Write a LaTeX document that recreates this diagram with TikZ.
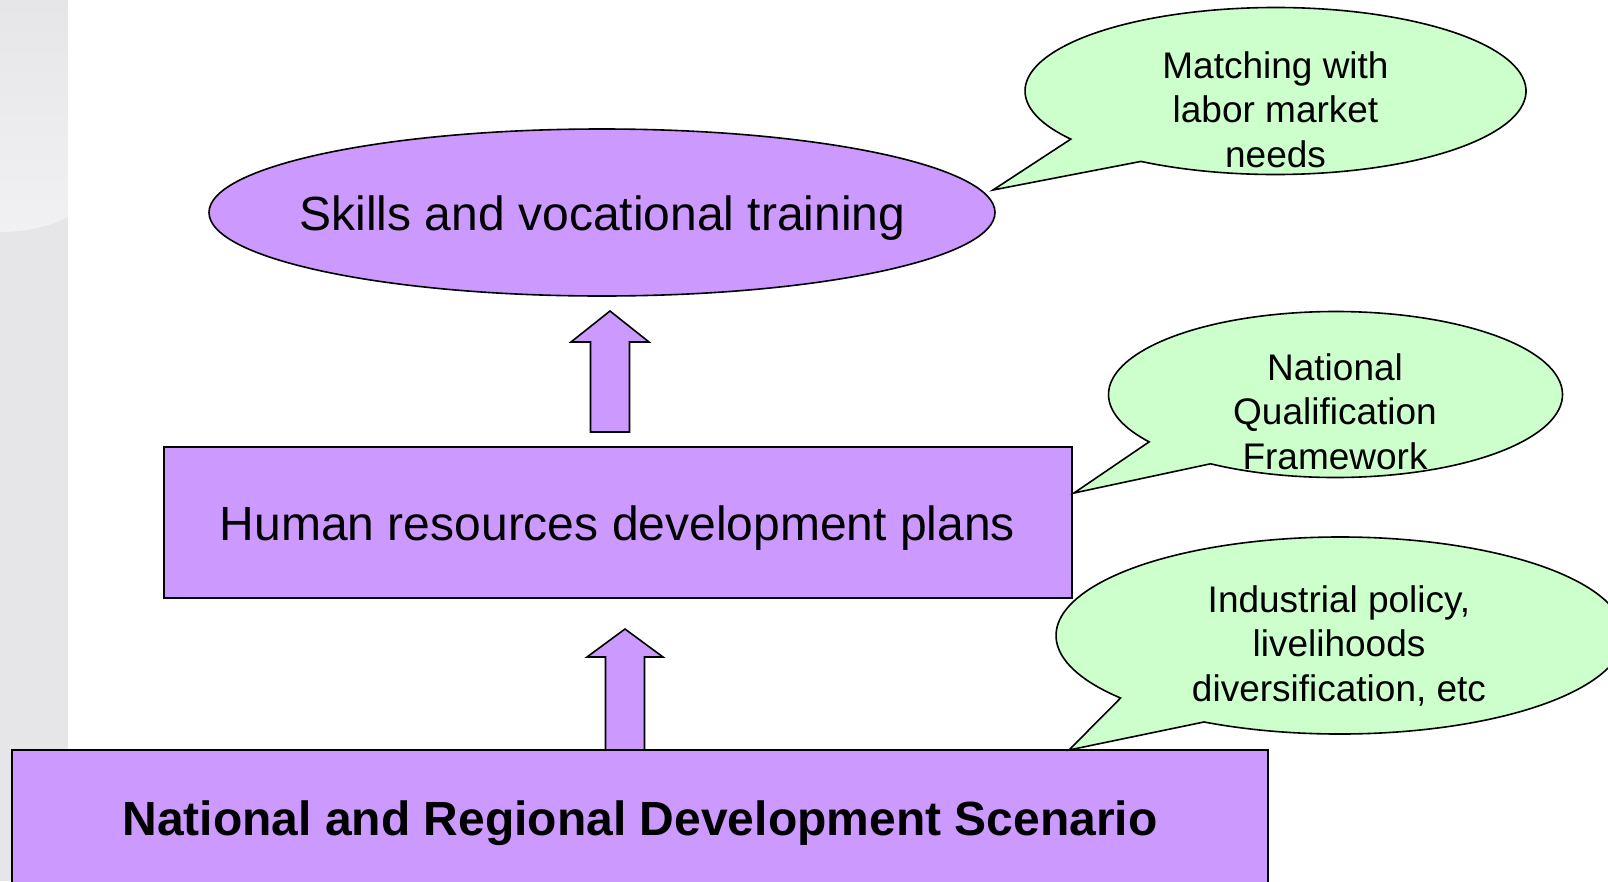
\documentclass[tikz,border=0pt]{standalone}
\usepackage{fontspec}
\setmainfont{Liberation Sans}
\usetikzlibrary{shapes.geometric}
\definecolor{lilac}{HTML}{CC99FF}
\definecolor{mint}{HTML}{CCFFCC}
\definecolor{stripgray}{HTML}{E6E6E8}
\definecolor{striplight}{HTML}{F1F1F3}
\begin{document}
\begin{tikzpicture}[x=1pt,y=-1pt,
  outline/.style={draw=black,line width=1.6pt,line join=miter},
  stage/.style={outline,fill=lilac,inner sep=0pt},
  bubble/.style={outline,fill=mint},
  upblock/.style={outline,fill=lilac},
  bigtext/.style={font=\fontsize{48}{58}\selectfont,inner sep=0pt,anchor=base},
  notetext/.style={font=\fontsize{37}{44.5}\selectfont,align=center,inner sep=0pt,anchor=north}]
\useasboundingbox (0,0) rectangle (1608,881);
\clip (0,0) rectangle (1608,881);

% grey side strip with its lighter rounded top panel
\fill[stripgray] (0,0) rectangle (68,881);
\shade[top color=stripgray,bottom color=striplight]
  (0,0) -- (68,0) -- (68,217) .. controls (45,229) and (20,232) .. (0,232) -- cycle;

% the three stages
\node[stage,ellipse,minimum width=786pt,minimum height=167pt] (skills) at (602,212.5) {};
\node[stage,rectangle,minimum width=908pt,minimum height=151pt] (hrd) at (618,522.5) {};
\node[stage,rectangle,minimum width=1256pt,minimum height=170pt] (scenario) at (640,835) {};

% block arrows between the stages
\coordinate (tipA) at (610,311);
\coordinate (tipB) at (625,629);
\draw[upblock] (tipA) -- ++(39,31) -- ++(-19.5,0) -- ++(0,90) -- ++(-39,0) -- ++(0,-90) -- ++(-19.5,0) -- cycle;
\draw[upblock] (tipB) -- ++(38,28) -- ++(-18.5,0) -- ++(0,93) -- ++(-39,0) -- ++(0,-93) -- ++(-18.5,0) -- cycle;

% speech bubbles: ellipse outline running the long way round, then the tail to its tip
\coordinate (tipC) at (993,190);
\coordinate (tipD) at (1074,493);
\coordinate (tipE) at (1069,750);
\draw[bubble] (1275.5,91) ++(122.5:250.5 and 83.5)
  arc[start angle=122.5,end angle=-215.2,x radius=250.5,y radius=83.5] -- (tipC) -- cycle;
\draw[bubble] (1335.5,394.5) ++(123.4:227 and 83)
  arc[start angle=123.4,end angle=-214.8,x radius=227,y radius=83] -- (tipD) -- cycle;
\draw[bubble] (1340,635.5) ++(118.6:284 and 98.5)
  arc[start angle=118.6,end angle=-219.4,x radius=284,y radius=98.5] -- (tipE) -- cycle;

% labels
\node[bigtext] (skillslabel) at (602.5,230) {Skills and vocational training};
\node[bigtext] (hrdlabel) at (617.5,540) {Human resources development plans};
\node[bigtext,font=\fontsize{48}{58}\selectfont\bfseries] (scenariolabel) at (640,835) {National and Regional Development Scenario};

\node[notetext] (noteC) at (1275.5,48) {\rule{0pt}{30pt}Matching with\\labor market\\needs};
\node[notetext] (noteD) at (1335,350) {\rule{0pt}{30pt}National\\Qualification\\Framework};
\node[notetext] (noteE) at (1339,582) {\rule{0pt}{30pt}Industrial policy,\\livelihoods\\diversification, etc};
\end{tikzpicture}
\end{document}
